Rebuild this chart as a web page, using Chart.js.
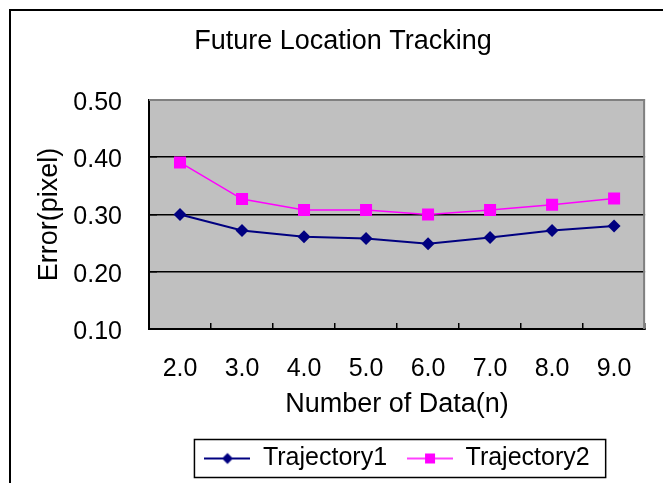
<!DOCTYPE html>
<html>
<head>
<meta charset="utf-8">
<script src="https://cdn.jsdelivr.net/npm/chart.js@4/dist/chart.umd.min.js"></script>
<style>
  html, body { margin: 0; padding: 0; background: #fff; }
  #wrap { position: relative; width: 663px; height: 483px; overflow: hidden; }
  #frame { position: absolute; left: 9px; top: 9px; width: 700px; height: 520px;
           border: 2px solid #000; box-sizing: border-box; pointer-events: none; }
  canvas { position: absolute; left: 0; top: 0; }
</style>
</head>
<body>
<div id="wrap">
  <canvas id="chart" width="663" height="483"></canvas>
  <div id="frame"></div>
</div>
<script>
// --- data ---
const categories = ['2.0', '3.0', '4.0', '5.0', '6.0', '7.0', '8.0', '9.0'];
const trajectory1 = [0.300, 0.272, 0.261, 0.258, 0.249, 0.260, 0.272, 0.280];
const trajectory2 = [0.391, 0.327, 0.308, 0.308, 0.300, 0.308, 0.317, 0.328];
const yTicks = [0.10, 0.20, 0.30, 0.40, 0.50];

const FONT = 'Liberation Sans, Arial, sans-serif';
const NAVY = '#000080', MAGENTA = '#FF00FF';

// legend symbol: short line with the marker in the middle
function legendSymbol(color, lineW, shape) {
  const c = document.createElement('canvas');
  c.width = 46; c.height = 16;
  const g = c.getContext('2d');
  g.strokeStyle = color; g.lineWidth = lineW;
  g.beginPath(); g.moveTo(0, 8); g.lineTo(46, 8); g.stroke();
  g.fillStyle = color;
  g.beginPath();
  if (shape === 'diamond') {
    g.moveTo(23, 2.5); g.lineTo(28.5, 8); g.lineTo(23, 13.5); g.lineTo(17.5, 8);
  } else {
    g.rect(18, 3, 10, 10);
  }
  g.closePath(); g.fill();
  return c;
}
const symbols = [legendSymbol(NAVY, 2, 'diamond'), legendSymbol(MAGENTA, 1.5, 'square')];

const plotBg = {
  id: 'plotBg',
  beforeDraw(chart) {
    const { ctx, chartArea: a } = chart;
    ctx.save();
    ctx.fillStyle = '#C0C0C0';
    ctx.fillRect(a.left, a.top, a.right - a.left, a.bottom - a.top);
    ctx.restore();
  },
  beforeDatasetsDraw(chart) {
    const { ctx, chartArea: a } = chart;
    ctx.save();
    ctx.strokeStyle = '#808080';
    ctx.lineWidth = 2;
    ctx.beginPath();
    ctx.moveTo(a.left, a.top); ctx.lineTo(a.right - 1, a.top); ctx.lineTo(a.right - 1, a.bottom);
    ctx.stroke();
    ctx.restore();
  },
  afterDraw(chart) {
    // frame round the legend
    const boxes = chart.legend && chart.legend.legendHitBoxes;
    if (!boxes || !boxes.length) return;
    const first = boxes[0], last = boxes[boxes.length - 1];
    const ctx = chart.ctx;
    ctx.save();
    ctx.strokeStyle = '#000';
    ctx.lineWidth = 1.5;
    ctx.strokeRect(first.left - 10, first.top - 6.5,
      last.left + last.width + 16 - (first.left - 10), first.height + 13);
    ctx.restore();
  }
};

new Chart(document.getElementById('chart').getContext('2d'), {
  type: 'line',
  data: {
    labels: categories,
    datasets: [
      {
        label: 'Trajectory1', data: trajectory1,
        borderColor: NAVY, backgroundColor: NAVY, borderWidth: 2,
        pointStyle: 'rectRot', pointRadius: 6.5, pointHoverRadius: 6.5,
        pointBorderWidth: 0, tension: 0
      },
      {
        label: 'Trajectory2', data: trajectory2,
        borderColor: MAGENTA, backgroundColor: MAGENTA, borderWidth: 1.5,
        pointStyle: 'rect', pointRadius: 8.5, pointHoverRadius: 8.5,
        pointBorderWidth: 0, tension: 0
      }
    ]
  },
  options: {
    responsive: false,
    animation: false,
    layout: { padding: { left: 29, right: 6, top: 0, bottom: 2 } },
    plugins: {
      title: {
        display: true, text: 'Future Location Tracking', color: '#000',
        font: { family: FONT, size: 27, weight: 'normal' },
        padding: { top: 25, bottom: 42.6 }
      },
      legend: {
        position: 'bottom', fullSize: false,
        labels: {
          color: '#000', font: { family: FONT, size: 25 },
          usePointStyle: true, pointStyleWidth: 46, padding: 20,
          generateLabels: chart => Chart.defaults.plugins.legend.labels.generateLabels(chart)
            .map((item, i) => Object.assign(item, { pointStyle: symbols[i], lineWidth: 0 }))
        }
      },
      tooltip: { enabled: false }
    },
    scales: {
      x: {
        offset: true,
        afterFit: s => { s.height = 97; },
        grid: { offset: true, drawOnChartArea: false, drawTicks: true, tickLength: -6,
                color: '#000', tickColor: '#000', lineWidth: 1.5 },
        border: { color: '#000', width: 2 },
        ticks: { color: '#000', font: { family: FONT, size: 25 }, padding: 31, maxRotation: 0 },
        title: { display: true, text: 'Number of Data(n)', color: '#000',
                 font: { family: FONT, size: 27 }, padding: { top: 0, bottom: 5 } }
      },
      y: {
        min: 0.1, max: 0.5,
        afterFit: s => { s.width = 120; },
        afterBuildTicks: s => { s.ticks = yTicks.map(v => ({ value: v })); },
        grid: {
          color: c => (c.tick && c.tick.value === 0.5) ? '#808080' : '#000',
          tickColor: '#000', lineWidth: 1.5, drawTicks: true, tickLength: -8
        },
        border: { color: '#000', width: 2 },
        ticks: { color: '#000', font: { family: FONT, size: 25 }, padding: 35, labelOffset: 3,
                 callback: v => Number(v).toFixed(2) },
        title: { display: true, text: 'Error(pixel)', color: '#000',
                 font: { family: FONT, size: 27 }, padding: { top: 4, bottom: 0 } }
      }
    }
  },
  plugins: [plotBg]
});
</script>
</body>
</html>
